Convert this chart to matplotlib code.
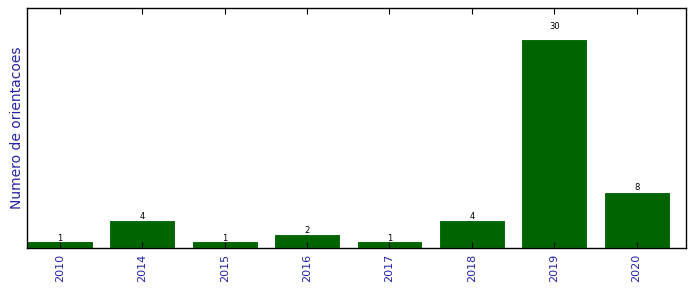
import matplotlib
matplotlib.use("Agg")
import matplotlib.pyplot as plt
import numpy as np

years = ["2010", "2014", "2015", "2016", "2017", "2018", "2019", "2020"]
counts = [1, 4, 1, 2, 1, 4, 30, 8]

fig = plt.figure(figsize=(6.96, 2.92), dpi=100)
ax = fig.add_axes([27/696, 1 - 248/292, (686-27)/696, (248-8)/292])
x = np.arange(len(years))
ax.bar(x, counts, width=0.8, color="#006400", edgecolor="white", linewidth=0.8)
for xi, c in zip(x, counts):
    ax.text(xi, c * 1.05, str(c), ha="center", va="baseline", fontsize=6)
ax.set_xlim(-0.4, len(years) - 0.4)
ax.set_ylim(0, max(counts) * 1.15)
ax.set_yticks([])
ax.set_xticks(x)
ax.set_xticklabels(years, rotation=90, color="#2424a8", fontsize=8)
ax.tick_params(axis="x", direction="in", top=True, length=4, width=0.8, pad=4.5)
ax.set_ylabel("Numero de orientacoes", color="#2424a8", fontsize=10, labelpad=2)
for s in ax.spines.values():
    s.set_linewidth(1.0)
fig.savefig("out.png", dpi=100)
